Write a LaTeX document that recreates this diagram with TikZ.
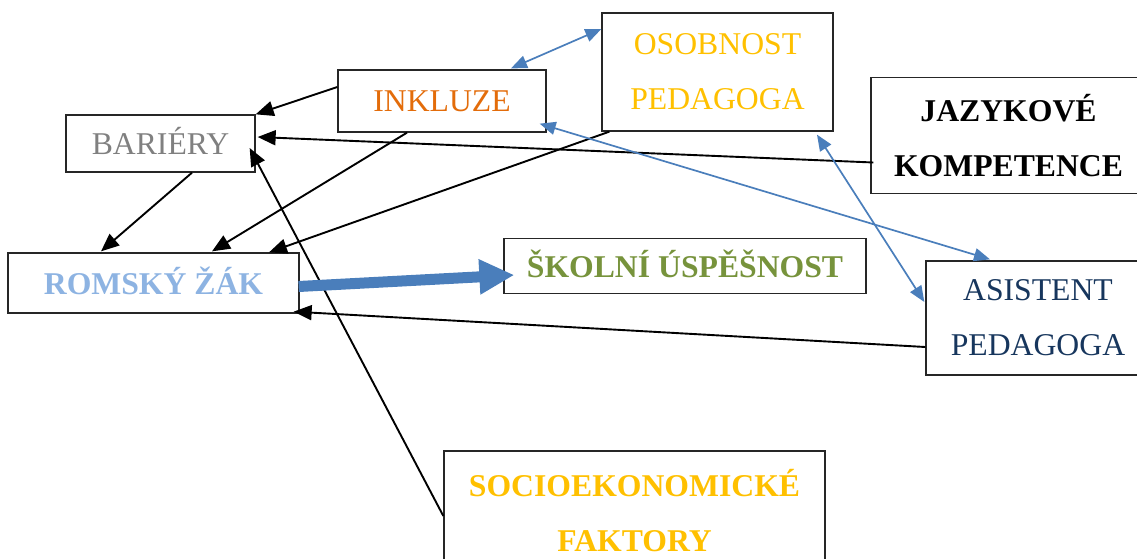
\documentclass[tikz,border=0pt]{standalone}
\usepackage{fontspec}
\setmainfont{Liberation Serif}
\usetikzlibrary{arrows.meta,calc}
\definecolor{cGray}{HTML}{808080}
\definecolor{cOrange}{HTML}{E36C0A}
\definecolor{cGold}{HTML}{FFC000}
\definecolor{cLightBlue}{HTML}{8DB3E2}
\definecolor{cGreen}{HTML}{77933C}
\definecolor{cNavy}{HTML}{17365D}
\definecolor{cArrowBlue}{HTML}{4A7EBB}
\begin{document}
\begin{tikzpicture}[x=1pt,y=-1pt,
  box/.style={draw=black!85,line width=1.3pt,inner sep=0pt,
    font=\fontsize{31.7}{55}\selectfont},
  one/.style={text height=22pt,text depth=0pt},
  two/.style={align=center},
  bold/.style={font=\fontsize{31.7}{55}\selectfont\bfseries},
  blk/.style={draw=black,line width=1.9pt,-{Triangle[length=18pt,width=15pt]}},
  blu/.style={draw=cArrowBlue,line width=1.7pt,{Triangle[length=16pt,width=13pt]}-{Triangle[length=16pt,width=13pt]}},
  thick/.style={draw=cArrowBlue,line width=11pt,-{Triangle[length=35pt,width=33pt]}}]
\useasboundingbox (0,0) rectangle (1137,559);

\node[box,one,text=cGray,minimum width=189pt,minimum height=57pt] (bar) at (160.5,143.5) {BARIÉRY};
\node[box,one,text=cOrange,minimum width=208pt,minimum height=62pt] (ink) at (442,101) {INKLUZE};
\node[box,two,text=cGold,minimum width=231pt,minimum height=118pt] (oso) at (717.5,72) {OSOBNOST\\PEDAGOGA};
\node[box,two,bold,text=black,minimum width=275pt,minimum height=116pt] (jaz) at (1008.5,135.5) {JAZYKOVÉ\\KOMPETENCE};
\node[box,one,bold,text=cLightBlue,minimum width=291pt,minimum height=60pt] (rom) at (153.5,283) {ROMSKÝ ŽÁK};
\node[box,one,bold,text=cGreen,minimum width=362pt,minimum height=55pt] (sko) at (685,266) {ŠKOLNÍ ÚSPĚŠNOST};
\node[box,two,text=cNavy,minimum width=224pt,minimum height=114pt] (asi) at (1038,318) {ASISTENT\\PEDAGOGA};
\node[box,two,bold,text=cGold,minimum width=381pt,minimum height=119pt] (soc) at (634.5,510.5) {SOCIOEKONOMICKÉ\\FAKTORY};

% black connectors
\draw[blk] ($(ink.west)+(0,-14)$) -- (bar.north east);
\draw[blk] ($(jaz.west)+(3,27)$) -- ($(bar.east)+(2,-6.5)$);
\draw[blk] ($(soc.west)+(0,5.5)$) -- ($(bar.east)+(-6,4.5)$);
\draw[blk] ($(bar.south)+(31.5,0)$) -- ($(rom.north)+(-52.5,-1)$);
\draw[blk] ($(ink.south)+(-35,0)$) -- ($(rom.north)+(58.5,-1)$);
\draw[blk] ($(oso.south west)+(8,0)$) -- ($(rom.north)+(115.5,0)$);
\draw[blk] ($(asi.west)+(0,29)$) -- ($(rom.south east)+(-6,-2)$);

% thick arrow
\draw[thick] ($(rom.east)+(-1,3.5)$) -- ($(sko.west)+(11,9)$);

% blue double arrows
\draw[blu] ($(ink.north)+(69,-1)$) -- ($(oso.west)+(0,-43)$);
\draw[blu] ($(ink.south east)+(-7,-9)$) -- ($(asi.north)+(-48,-1)$);
\draw[blu] ($(oso.south)+(99.5,3)$) -- ($(asi.west)+(-1,-16)$);
\end{tikzpicture}
\end{document}
